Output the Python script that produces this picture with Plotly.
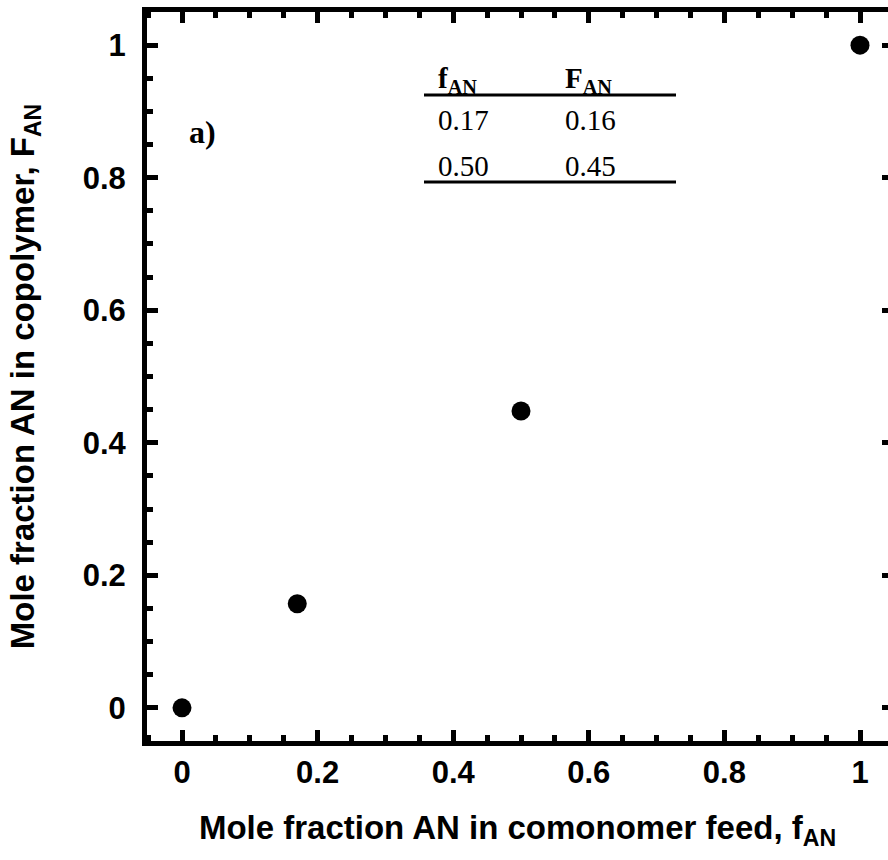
import plotly.graph_objects as go

# Data
feed_fraction = [0.0, 0.17, 0.50, 1.0]          # f_AN
copolymer_fraction = [0.0, 0.157, 0.448, 1.0]   # F_AN

table_header = ["f<sub>AN</sub>", "F<sub>AN</sub>"]
table_f = ["0.17", "0.50"]
table_F = ["0.16", "0.45"]

x_ticks = [0, 0.2, 0.4, 0.6, 0.8, 1]
x_tick_labels = ["0", "0.2", "0.4", "0.6", "0.8", "1"]
y_ticks = [0, 0.2, 0.4, 0.6, 0.8, 1]
y_tick_labels = ["0", "0.2", "0.4", "0.6", "0.8", "1"]

W, H = 888, 860
ML, MT, MB = 147, 12, 860 - 741
PX_PER_UNIT_X = 678.0
X0_PX = 182.0
x_lo = -(X0_PX - ML) / PX_PER_UNIT_X
x_hi = (W - X0_PX) / PX_PER_UNIT_X
y_range = [-0.05, 1.05]

TICKFONT = dict(family="Liberation Sans, Arial, sans-serif", size=31, color="black", weight="bold")
TITLEFONT = dict(family="Liberation Sans, Arial, sans-serif", size=33, color="black", weight="bold")

fig = go.Figure()
fig.add_trace(go.Scatter(
    x=feed_fraction, y=copolymer_fraction, mode="markers",
    marker=dict(size=19, color="black", line=dict(width=0)),
    showlegend=False, cliponaxis=False,
))

common_axis = dict(
    showline=True, linecolor="black", linewidth=5,
    ticks="inside", ticklen=11, tickwidth=4.5, tickcolor="black",
    showgrid=False, zeroline=False,
    tickfont=TICKFONT,
)

fig.update_layout(
    width=W, height=H,
    margin=dict(l=ML, r=0, t=MT, b=MB, autoexpand=False),
    paper_bgcolor="white", plot_bgcolor="white",
    xaxis=dict(
        **common_axis,
        range=[x_lo, x_hi], mirror="ticks",
        tickvals=x_ticks, ticktext=x_tick_labels,
        minor=dict(ticks="inside", ticklen=6, tickwidth=4.5, tickcolor="black", dtick=0.05, tick0=0, showgrid=False),
        title=dict(text="Mole fraction AN in comonomer feed, f<sub>AN</sub>", font=TITLEFONT, standoff=28),
        ticklabelstandoff=0,
    ),
    yaxis=dict(
        **common_axis,
        range=y_range, mirror=False,
        tickvals=y_ticks, ticktext=y_tick_labels,
        minor=dict(ticks="inside", ticklen=6, tickwidth=4.5, tickcolor="black", dtick=0.05, tick0=0, showgrid=False),
        title=dict(text="Mole fraction AN in copolymer, F<sub>AN</sub>", font=TITLEFONT, standoff=40),
        ticklabelstandoff=10,
    ),
    yaxis2=dict(
        overlaying="y", side="right", range=y_range,
        showline=False, showgrid=False, zeroline=False,
        ticks="inside", ticklen=6, tickwidth=4.5, tickcolor="black",
        tickvals=y_ticks, showticklabels=False,
    ),
)

# invisible trace to activate yaxis2
fig.add_trace(go.Scatter(x=[None], y=[None], yaxis="y2", showlegend=False, hoverinfo="skip"))

# Inset table
SERIF = "Liberation Serif, Times New Roman, serif"

def px_to_paper_x(px):
    return (px - ML) / (W - ML)

def py_to_paper_y(py):
    return (741 - py) / (741 - MT)

col_left_px = [436, 563]
header_y_px = 80
row_y_px = [120, 166]
for i, h in enumerate(table_header):
    fig.add_annotation(
        x=px_to_paper_x(col_left_px[i]), y=py_to_paper_y(header_y_px), xref="paper", yref="paper",
        text="<b>" + h + "</b>",
        showarrow=False, xanchor="left", yanchor="middle",
        font=dict(family=SERIF, size=29, color="black"),
    )
for r in range(len(table_f)):
    for i, val in enumerate([table_f[r], table_F[r]]):
        fig.add_annotation(
            x=px_to_paper_x(col_left_px[i]), y=py_to_paper_y(row_y_px[r]), xref="paper", yref="paper",
            text=val, showarrow=False, xanchor="left", yanchor="middle",
            font=dict(family=SERIF, size=29, color="black"),
        )
for ly in [95, 182]:
    fig.add_shape(type="line", xref="paper", yref="paper",
                  x0=px_to_paper_x(424), x1=px_to_paper_x(676),
                  y0=py_to_paper_y(ly), y1=py_to_paper_y(ly),
                  line=dict(color="black", width=3))

fig.add_annotation(
    x=px_to_paper_x(187), y=py_to_paper_y(132), xref="paper", yref="paper",
    text="<b>a)</b>", showarrow=False, xanchor="left", yanchor="middle",
    font=dict(family=SERIF, size=32, color="black"),
)

fig.write_html("out.html")
